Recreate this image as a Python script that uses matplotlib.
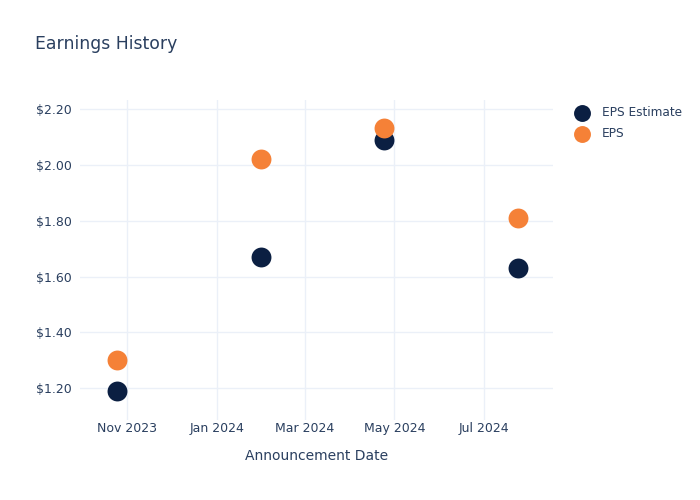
import matplotlib
matplotlib.use("Agg")
import matplotlib.pyplot as plt
import numpy as np

# data
dates = np.array(["2023-10-25", "2024-01-31", "2024-04-24", "2024-07-24"], dtype="datetime64[D]")
eps_estimate = [1.19, 1.67, 2.09, 1.63]
eps_actual = [1.30, 2.02, 2.13, 1.81]
y_ticks = [1.2, 1.4, 1.6, 1.8, 2.0, 2.2]
x_ticks = np.array(["2023-11-01", "2024-01-01", "2024-03-01", "2024-05-01", "2024-07-01"], dtype="datetime64[D]")
x_tick_labels = ["Nov 2023", "Jan 2024", "Mar 2024", "May 2024", "Jul 2024"]

TEXT = "#2a3f5f"
GRID = "#ebf0f8"
NAVY = "#0b1f42"
ORANGE = "#f58137"

plt.rcParams["font.family"] = ["DejaVu Sans"]

fig = plt.figure(figsize=(7, 5), dpi=100)
ax = fig.add_axes([80 / 700, 80 / 500, (553 - 80) / 700, 320 / 500])

ax.scatter(dates, eps_estimate, s=205, color=NAVY, zorder=3, label="EPS Estimate", linewidths=0)
ax.scatter(dates, eps_actual, s=205, color=ORANGE, zorder=4, label="EPS", linewidths=0)

ax.set_xlim(np.datetime64("2023-09-30"), np.datetime64("2024-08-17"))
ax.set_ylim(1.0866, 2.232)
ax.set_xticks(x_ticks)
ax.set_xticklabels(x_tick_labels)
ax.set_yticks(y_ticks)
ax.set_yticklabels([f"${v:.2f}" for v in y_ticks])

ax.grid(True, color=GRID, linewidth=1)
ax.set_axisbelow(True)
for s in ax.spines.values():
    s.set_visible(False)
ax.tick_params(length=0, colors=TEXT, labelsize=9)
ax.tick_params(axis="x", pad=1.5)
ax.tick_params(axis="y", pad=6)

ax.set_xlabel("Announcement Date", color=TEXT, fontsize=10, labelpad=10)

fig.text(35 / 700, 1 - 44 / 500, "Earnings History", color=TEXT, fontsize=12.4, va="center", ha="left")

leg = ax.legend(loc="upper left", bbox_to_anchor=(1.026, 0.995), frameon=False,
                fontsize=8.7, labelcolor=TEXT, handletextpad=0.6, borderaxespad=0.0,
                labelspacing=0.6, markerscale=0.85)

fig.savefig("out.png", dpi=100, facecolor="white")
